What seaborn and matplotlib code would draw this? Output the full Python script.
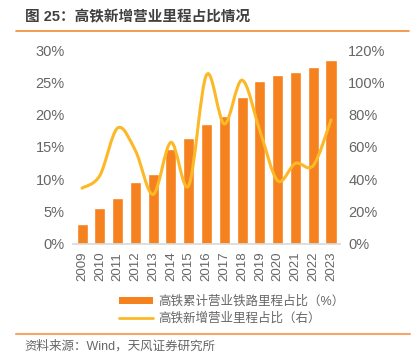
import seaborn as sns
import pandas as pd
import matplotlib.pyplot as plt
from matplotlib.path import Path
from matplotlib.patches import PathPatch
from matplotlib.lines import Line2D
from matplotlib.patches import Patch
from matplotlib.ticker import PercentFormatter, FixedLocator

# data
years = ['2009', '2010', '2011', '2012', '2013', '2014', '2015', '2016',
         '2017', '2018', '2019', '2020', '2021', '2022', '2023']
hsr_share = [3.1, 5.5, 7.0, 9.6, 10.8, 14.6, 16.4, 18.6, 19.8, 22.7,
             25.3, 26.1, 26.6, 27.4, 28.5]
new_share = [34.4, 42.2, 71.7, 57.7, 30.5, 62.8, 36.0, 104.7, 74.2, 101.4,
             70.0, 39.0, 49.8, 48.4, 76.7]

bar_label = '高铁累计营业铁路里程占比（%）'
line_label = '高铁新增营业里程占比（右）'
bar_color = '#F5821F'
line_color = '#FDB827'
grey = '#666666'

sns.set_theme(style='white')
plt.rcParams['font.family'] = ['Liberation Sans', 'Noto Sans CJK SC']

df = pd.DataFrame({'year': years, 'share': hsr_share, 'new': new_share})

fig = plt.figure(figsize=(4.11, 3.64), dpi=100)
ax = fig.add_axes([0.178, 0.331, 0.649, 0.531])

sns.barplot(data=df, x='year', y='share', color=bar_color, saturation=1,
            width=0.62, ax=ax)
ax.set_xlim(-0.5, len(years) - 0.5)
ax.set_ylim(0, 30)
ax.yaxis.set_major_locator(FixedLocator(range(0, 31, 5)))
ax.yaxis.set_major_formatter(PercentFormatter(decimals=0))
ax.set_xlabel('')
ax.set_ylabel('')

# smoothed line on right axis (bezier through the points)
ax2 = ax.twinx()
ax2.set_ylim(0, 120)
ax2.yaxis.set_major_locator(FixedLocator(range(0, 121, 20)))
ax2.yaxis.set_major_formatter(PercentFormatter(decimals=0))
xs = list(range(len(new_share)))
verts = [(xs[0], new_share[0])]
codes = [Path.MOVETO]
n = len(xs)
for i in range(n - 1):
    p0 = (xs[max(i - 1, 0)], new_share[max(i - 1, 0)])
    p1 = (xs[i], new_share[i])
    p2 = (xs[i + 1], new_share[i + 1])
    p3 = (xs[min(i + 2, n - 1)], new_share[min(i + 2, n - 1)])
    c1 = (p1[0] + (p2[0] - p0[0]) / 6, p1[1] + (p2[1] - p0[1]) / 6)
    c2 = (p2[0] - (p3[0] - p1[0]) / 6, p2[1] - (p3[1] - p1[1]) / 6)
    verts += [c1, c2, p2]
    codes += [Path.CURVE4] * 3
ax2.add_patch(PathPatch(Path(verts, codes), facecolor='none',
                        edgecolor=line_color, lw=2.2, capstyle='round'))

for a in (ax, ax2):
    for s in a.spines.values():
        s.set_visible(False)
    a.tick_params(axis='y', length=0, labelsize=10.5, labelcolor=grey, pad=6)
    a.grid(False)
ax.spines['bottom'].set_visible(True)
ax.spines['bottom'].set_color('#D9D9D9')
ax.tick_params(axis='x', length=0, labelsize=9.5, labelcolor=grey,
               labelrotation=90, pad=6)
for lab in ax.get_xticklabels():
    lab.set_family(['Liberation Sans Narrow', 'Liberation Sans'])
ax.set_xticks([i + 0.5 for i in range(-1, len(years))], minor=True)
ax.tick_params(axis='x', which='minor', length=4, color='#D9D9D9', width=0.8)

handles = [Patch(facecolor=bar_color, edgecolor='none'),
           Line2D([], [], color=line_color, lw=2)]
fig.legend(handles, [bar_label, line_label], loc='upper left',
           bbox_to_anchor=(0.275, 0.205), frameon=False, fontsize=9,
           labelcolor=grey, handlelength=2.7, handleheight=0.45,
           labelspacing=0.35, handletextpad=0.4, borderpad=0)

fig.text(0.06, 0.953, '图 25：高铁新增营业里程占比情况', fontsize=10.5,
         color='#404040', fontweight='bold', va='center')
fig.add_artist(Line2D([0.039, 0.995], [0.915, 0.915], color='#F28A33', lw=1.2))
fig.add_artist(Line2D([0.039, 0.998], [0.083, 0.083], color='#F5A66A', lw=1.5))
fig.text(0.06, 0.047, '资料来源：Wind，天风证券研究所', fontsize=9,
         color=grey, va='center')

fig.savefig('out.png', dpi=100)
